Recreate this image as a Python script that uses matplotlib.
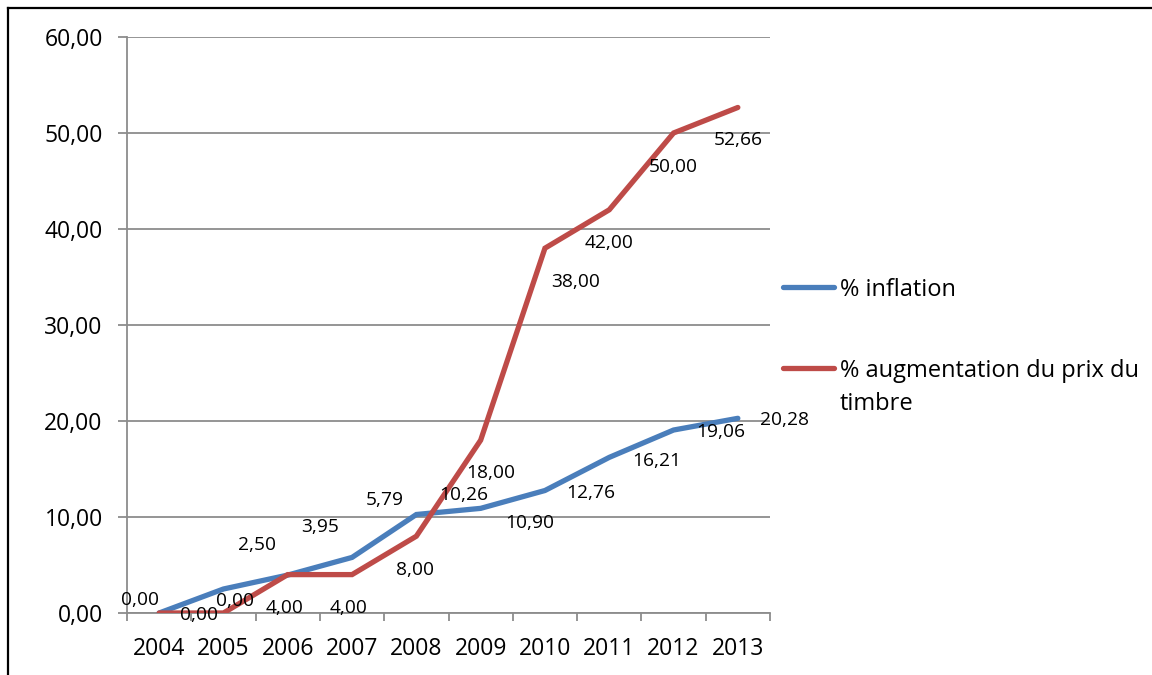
import matplotlib
matplotlib.use("Agg")
import matplotlib.pyplot as plt
from matplotlib.lines import Line2D
from matplotlib.ticker import FixedLocator, FuncFormatter

plt.rcParams['font.family'] = ['Open Sans', 'DejaVu Sans']

# data
years = ['2004', '2005', '2006', '2007', '2008', '2009', '2010', '2011', '2012', '2013']
inflation = [0.00, 2.50, 3.95, 5.79, 10.26, 10.90, 12.76, 16.21, 19.06, 20.28]
timbre = [0.00, 0.00, 4.00, 4.00, 8.00, 18.00, 38.00, 42.00, 50.00, 52.66]
series_names = ['% inflation', '% augmentation du prix du\ntimbre']
colors = ['#4A7EBB', '#BE4B48']

# where each data label sits relative to its point (pixels), as in the original
inflation_offsets = [(-19, 13), (34, 44), (32, 48), (33, 57), (47, 20),
                     (49, -15), (46, -2), (47, -4), (47, -2), (47, -2)]
timbre_offsets = [(40, -2), (12, 12), (-3, -33), (-3, -33), (-1, -34),
                  (10, -33), (31, -34), (0, -33), (0, -34), (0, -33)]

W, H = 1152, 675
fig = plt.figure(figsize=(W / 100, H / 100), dpi=100)
ax = fig.add_axes([127 / W, 1 - 613 / H, (770 - 127) / W, (613 - 37) / H])

x = list(range(len(years)))
grey = '#8C8C8C'

# gridlines
ax.set_ylim(0, 60)
ax.set_xlim(-0.5, len(years) - 0.5)
ax.yaxis.set_major_locator(FixedLocator(range(0, 61, 10)))
ax.yaxis.set_major_formatter(FuncFormatter(lambda v, p: f"{v:.2f}".replace('.', ',')))
ax.grid(axis='y', color=grey, linewidth=1.3)
ax.set_axisbelow(True)

for sp in ['top', 'right']:
    ax.spines[sp].set_visible(False)
for sp in ['left', 'bottom']:
    ax.spines[sp].set_color(grey)
    ax.spines[sp].set_linewidth(1.3)

# x axis: ticks between categories, labels in the middle
ax.xaxis.set_major_locator(FixedLocator([i - 0.5 for i in range(len(years) + 1)]))
ax.xaxis.set_major_formatter(FuncFormatter(lambda v, p: ''))
ax.xaxis.set_minor_locator(FixedLocator(x))
ax.set_xticklabels(years, minor=True)
ax.tick_params(axis='x', which='major', length=6, width=1.3, color=grey, direction='out')
ax.tick_params(axis='x', which='minor', length=0, pad=17, labelsize=16.5)
ax.tick_params(axis='y', length=6.5, width=1.3, color=grey, pad=11, labelsize=16.5)

# the lines
ax.plot(x, inflation, color=colors[0], linewidth=3.8, solid_capstyle='round',
        solid_joinstyle='miter', zorder=3)
ax.plot(x, timbre, color=colors[1], linewidth=3.8, solid_capstyle='round',
        solid_joinstyle='miter', zorder=3)

# data labels
for vals, offs in [(inflation, inflation_offsets), (timbre, timbre_offsets)]:
    for xi, v, (dx, dy) in zip(x, vals, offs):
        ax.annotate(f"{v:.2f}".replace('.', ','), (xi, v), xytext=(dx, dy),
                    textcoords='offset pixels', ha='center', va='center',
                    fontsize=13.8, zorder=4)

# legend drawn by hand (wrapped text like excel)
leg_y = [287, 368]
for name, c, yy in zip(series_names, colors, leg_y):
    fig.add_artist(Line2D([783 / W, 834 / W], [1 - yy / H, 1 - yy / H], color=c,
                          linewidth=3.8, solid_capstyle='round'))
    fig.text(840 / W, 1 - (yy - 9) / H, name, ha='left', va='top',
             fontsize=17, linespacing=1.5)

# chart border (top and left visible)
fig.add_artist(Line2D([8 / W, 1.01], [1 - 7.5 / H, 1 - 7.5 / H], color='black', linewidth=1.6))
fig.add_artist(Line2D([8 / W, 8 / W], [1 - 7.5 / H, -0.01], color='black', linewidth=1.6))

fig.savefig('out.png', dpi=100)
